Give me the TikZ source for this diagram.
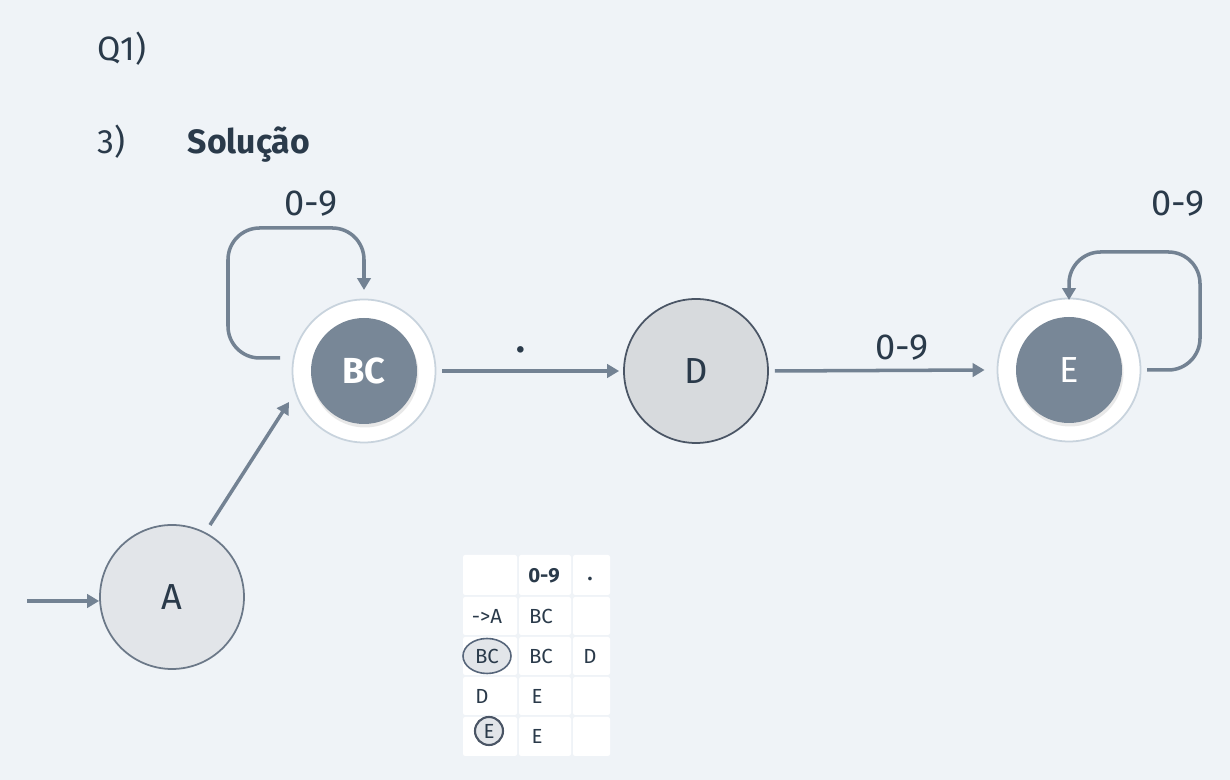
\documentclass[tikz,border=0pt]{standalone}
\usepackage{fontspec}
\setmainfont{Fira Sans}
\usetikzlibrary{arrows.meta,shapes.geometric,calc}
\definecolor{bg}{HTML}{EFF3F7}
\definecolor{ink}{HTML}{2A3A4A}
\definecolor{edge}{HTML}{738293}
\definecolor{stfill}{HTML}{E2E5E9}
\definecolor{stline}{HTML}{6B7888}
\definecolor{dline}{HTML}{4A5565}
\definecolor{accin}{HTML}{788797}
\definecolor{accout}{HTML}{C8D3DD}
\definecolor{tline}{HTML}{56657A}
\tikzset{
  big/.style={font=\fontsize{10.3}{12}\selectfont, text=ink},
  state/.style={circle, minimum size=144*0.01cm, inner sep=0pt, fill=stfill, draw=stline, line width=0.5pt, big},
  accout/.style={circle, minimum size=143*0.01cm, inner sep=0pt, fill=white, draw=accout, line width=0.5pt},
  accin/.style={circle, minimum size=106*0.01cm, inner sep=0pt, fill=accin, text=white, font=\fontsize{10.3}{12}\selectfont},
  conn/.style={draw=edge, line width=1pt, -{Triangle[length=3.4pt,width=3.8pt]}},
  cell/.style={fill=white, rounded corners=0.6pt},
  tt/.style={font=\fontsize{5.8}{7}\selectfont, text=ink},
  ttl/.style={anchor=base west, inner sep=0pt, text=ink},
}
\begin{document}
\begin{tikzpicture}[x=0.01cm,y=-0.01cm]
\fill[bg] (0,0) rectangle (1230,780);
\useasboundingbox (0,0) rectangle (1230,780);
% titles
\node[ttl, font=\fontsize{9.6}{12}\selectfont] (q1) at (97,61) {Q1)};
\node[ttl, font=\fontsize{9.6}{12}\selectfont] (n3) at (97,154) {3)};
\node[ttl, font=\fontsize{9.6}{12}\selectfont\bfseries] (sol) at (187,154) {Solução};
% states
\node[state] (A) at (172,597) {A};
\node[accout] (BCo) at (364,371) {};
\fill[black!25, opacity=0.35] (365,374) circle (53.5);
\node[accin, font=\fontsize{10.3}{12}\selectfont\bfseries] (BC) at (364,371) {BC};
\node[state, draw=dline, fill=stfill!95!black] (D) at (696,371) {D};
\node[accout] (Eo) at (1069,370) {};
\fill[black!25, opacity=0.35] (1070,373) circle (53.5);
\node[accin] (E) at (1069,370) {E};
% connectors
\coordinate (st) at (27,601);
\draw[conn] (st) -- (A.west |- st);
\draw[conn] ($(A)+(38,-72)$) -- ($(BCo)+(-75,31)$);
\draw[conn] ($(BCo.east)+(6,0)$) -- ($(D.west)+(-4,0)$);
\draw[conn] ($(D.east)+(6,0)$) -- ($(Eo.west)+(-12,0)$);
\node[big, font=\fontsize{10.3}{12}\selectfont\bfseries] (ldot) at (521,350) {.};
\node[big] (l09a) at (902,348) {0-9};
% loops
\coordinate (bl1) at (280,358);
\draw[conn, rounded corners=9] (bl1) -- (228,358) -- (228,228) -- (364,228) -- (364,290);
\node[big] (l09b) at (311,204) {0-9};
\coordinate (el1) at (1147,370);
\draw[conn, rounded corners=9] (el1) -- (1200,370) -- (1200,252) -- (1069,252) -- (1069,300);
\node[big] (l09c) at (1178,204) {0-9};
% table
\foreach \xa/\xb in {463/517,519/571,573/610}{
  \foreach \ya/\yb in {555/595,597/635,637/675,677/715,717/756}{
    \fill[cell] (\xa,\ya) rectangle (\xb,\yb);
  }
}
\node[tt, font=\fontsize{5.8}{7}\selectfont\bfseries] (h1) at (544,576) {0-9};
\node[tt, font=\fontsize{5.8}{7}\selectfont\bfseries] (h2) at (590,579) {.};
\node[tt] (r1a) at (487,616) {->A};
\node[tt] (r1b) at (541,616) {BC};
\node[tt, ellipse, draw=tline, fill=stfill, line width=0.45pt, minimum width=48*0.01cm, minimum height=35*0.01cm, inner sep=0pt] (r2a) at (487,656) {BC};
\node[tt] (r2b) at (541,656) {BC};
\node[tt] (r2c) at (590,656) {D};
\node[tt] (r3a) at (482,696) {D};
\node[tt] (r3b) at (537,696) {E};
\node[tt, circle, draw=dline, fill=stfill, line width=0.6pt, minimum size=28*0.01cm, inner sep=0pt] (r4a) at (489,731) {E};
\node[tt] (r4b) at (537,736) {E};
\end{tikzpicture}
\end{document}
